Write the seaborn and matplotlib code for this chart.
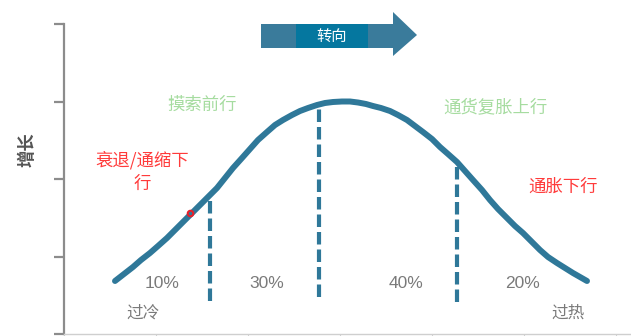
import matplotlib
matplotlib.use("Agg")
import matplotlib.pyplot as plt
from matplotlib.patches import Rectangle, Polygon
import seaborn as sns
import pandas as pd

# ---- data (arbitrary cycle / growth units) ----
curve_x = [51, 60, 69, 77, 86, 94, 103, 111, 119, 128, 136, 144, 153, 161,
           169, 178, 186, 194, 203, 211, 219, 228, 236, 244, 253, 261, 269,
           278, 286, 294, 302, 309, 317, 326, 334, 343, 351, 359, 368, 376,
           384, 393, 401, 409, 418, 426, 434, 443, 451, 459, 468, 476, 484,
           493, 501, 509, 516, 523]
curve_y = [53, 60, 67, 74, 81, 88, 96, 104, 112, 121, 129, 137, 146, 156,
           166, 176, 185, 194, 202, 209, 214, 219, 223, 226, 229, 231, 232,
           232.5, 232.5, 231.5, 230, 228, 226, 223, 219, 214, 208, 202, 195,
           187, 180, 172, 163, 154, 144, 134, 125, 116, 108, 101, 92, 84, 77,
           71, 66, 61, 57, 53]

divider_x = [146, 255, 393]
divider_top = [137, 229, 172]
divider_bottom = [33, 37, 32]

share_labels = ["10%", "30%", "40%", "20%"]
share_x = [98, 203, 342, 459]
share_y = [51, 51, 51, 51]

phase_labels = ["摸索前行", "通货复胀上行"]
phase_x = [138, 431]
phase_y = [229, 227]

down_labels = ["衰退/通缩下\n行", "通胀下行"]
down_x = [78, 499]
down_y = [162, 147]

end_labels = ["过冷", "过热"]
end_x = [79, 504]
end_y = [21, 21]

arrow_label = "转向"
y_label = "增长"

cjk = ["Noto Sans CJK SC", "DejaVu Sans"]
latin = ["Liberation Sans", "DejaVu Sans"]

sns.set_style("white")
plt.rcParams["font.family"] = cjk

blue = "#2f7899"

fig = plt.figure(figsize=(6.31, 3.36), dpi=100)
ax = fig.add_axes([64 / 631, 2 / 336, 567 / 631, 310 / 336])

df = pd.DataFrame({"x": curve_x, "y": curve_y})
sns.lineplot(data=df, x="x", y="y", sort=False, ax=ax, color=blue,
             linewidth=4.3, solid_capstyle="round", solid_joinstyle="round")

ax.vlines(divider_x, divider_bottom, divider_top, colors=blue,
          linewidth=3.0, linestyles=(0, (3.0, 1.2)))

ax.set_xlim(0, 567)
ax.set_ylim(0, 310)
ax.set_yticks([0, 77.5, 155, 232.5, 310])
ax.set_yticklabels([])
ax.set_xticks([0, 92, 184, 276, 368, 460, 552])
ax.set_xticklabels([])
ax.set_xlabel("")
ax.set_ylabel(y_label, fontsize=12.5, fontweight="bold", color="#555555",
              family=cjk)
ax.yaxis.set_label_coords(-0.049, 0.594)

for s in ["top", "right"]:
    ax.spines[s].set_visible(False)
ax.spines["left"].set_color("#8c8c8c")
ax.spines["left"].set_linewidth(1.6)
ax.spines["bottom"].set_color("#cfcfcf")
ax.spines["bottom"].set_linewidth(1.0)
ax.tick_params(axis="y", direction="out", length=7, width=1.6, color="#8c8c8c",
               left=True)
ax.tick_params(axis="x", direction="out", length=3, width=0.8, color="#cfcfcf",
               bottom=True)

for lab, x, y in zip(share_labels, share_x, share_y):
    ax.text(x, y, lab, ha="center", va="center", fontsize=12.5,
            color="#7a7a7a", family=latin)

for lab, x, y in zip(phase_labels, phase_x, phase_y):
    ax.text(x, y, lab, ha="center", va="center", fontsize=12.5,
            color="#a6dca0", family=cjk)

for lab, x, y in zip(down_labels, down_x, down_y):
    ax.text(x, y, lab, ha="center", va="center", fontsize=12.5,
            color="#ff3b3b", family=cjk, linespacing=1.35)

for lab, x, y in zip(end_labels, end_x, end_y):
    ax.text(x, y, lab, ha="center", va="center", fontsize=12,
            color="#7a7a7a", family=cjk)

# small red mark on the curve
ax.plot([126], [121], marker="o", markersize=4, color="#e8202a",
        markerfacecolor="none", markeredgewidth=1.5)

# "转向" arrow
ax.add_patch(Rectangle((197, 286), 132, 24, facecolor="#3a7b9b",
                       edgecolor="none", clip_on=False))
ax.add_patch(Rectangle((232, 286), 72, 24, facecolor="#05779f",
                       edgecolor="none", clip_on=False))
ax.add_patch(Polygon([[329, 322], [353, 299], [329, 278]],
                     closed=True, facecolor="#3a7b9b", edgecolor="none",
                     clip_on=False))
ax.text(268, 298, arrow_label, ha="center", va="center", fontsize=11,
        color="white", family=cjk)

fig.savefig("out.png", dpi=100)
